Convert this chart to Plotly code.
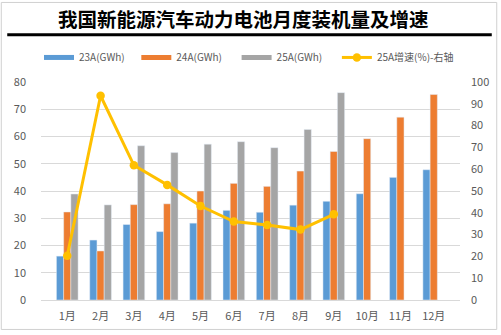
import plotly.graph_objects as go

months = ["1月", "2月", "3月", "4月", "5月", "6月", "7月", "8月", "9月", "10月", "11月", "12月"]
s23 = [16.1, 22.0, 27.7, 25.1, 28.2, 32.9, 32.2, 34.8, 36.2, 39.0, 45.0, 47.8]
s24 = [32.3, 18.0, 35.0, 35.3, 40.0, 42.8, 41.7, 47.3, 54.5, 59.2, 67.1, 75.4]
s25 = [38.9, 34.9, 56.6, 54.1, 57.2, 58.1, 55.9, 62.6, 76.1, None, None, None]
g25 = [20.3, 93.7, 61.8, 52.8, 43.1, 36.0, 34.4, 32.3, 39.3, None, None, None]

names = ["23A(GWh)", "24A(GWh)", "25A(GWh)", "25A增速(%)-右轴"]
colors = ["#5B9BD5", "#ED7D31", "#A5A5A5", "#FFC000"]

FONT = "Noto Sans CJK SC"
W, H = 501, 335
L, R, T, B = 41, 38, 82, 31
pw, ph = W - L - R, H - T - B

def px(x):
    return (x - L) / pw

def py(y):
    return (H - B - y) / ph

legend_ids = ["legend", "legend2", "legend3", "legend4"]
legend_x = [39, 137, 238, 339]

fig = go.Figure()
for vals, nm, c in zip([s23, s24, s25], names[:3], colors[:3]):
    fig.add_trace(go.Bar(x=months, y=vals, name=nm, marker_color=c,
                         showlegend=False, yaxis="y"))
# legend stand-ins for bars (Excel-style thick line keys)
for nm, c, lg in zip(names[:3], colors[:3], legend_ids[:3]):
    fig.add_trace(go.Scatter(x=[None], y=[None], mode="lines", name=nm,
                             line=dict(color=c, width=5), legend=lg))
fig.add_trace(go.Scatter(x=months, y=g25, name=names[3], mode="lines+markers",
                         line=dict(color=colors[3], width=3),
                         marker=dict(color=colors[3], size=8.5), yaxis="y2",
                         legend=legend_ids[3]))

legend_cfg = {}
for lg, lx in zip(legend_ids, legend_x):
    legend_cfg[lg] = dict(orientation="h", x=px(lx), xanchor="left", y=py(57),
                          yanchor="middle", font=dict(size=10, color="#595959"),
                          itemwidth=30, bgcolor="rgba(0,0,0,0)")

fig.update_layout(
    width=W, height=H,
    margin=dict(l=L, r=R, t=T, b=B, pad=0),
    paper_bgcolor="white", plot_bgcolor="white",
    font=dict(family=FONT, size=11, color="#595959"),
    barmode="group", bargap=0.35, bargroupgap=0,
    xaxis=dict(showgrid=False, showline=True, linecolor="#D9D9D9", linewidth=1,
               ticks="", tickfont=dict(size=11, color="#595959"),
               ticklabelstandoff=6),
    yaxis=dict(range=[0, 80], dtick=10, showgrid=True, gridcolor="#D9D9D9",
               zeroline=False, showline=False, ticks="",
               tickfont=dict(size=11, color="#595959"), ticklabelstandoff=14),
    yaxis2=dict(range=[0, 100], dtick=10, overlaying="y", side="right",
                showgrid=False, zeroline=False, showline=False, ticks="",
                tickfont=dict(size=11, color="#595959"), ticklabelstandoff=10),
    showlegend=True,
    annotations=[dict(text="<b>我国新能源汽车动力电池月度装机量及增速</b>",
                      xref="paper", yref="paper", x=px(245), y=py(17),
                      xanchor="center", yanchor="middle", showarrow=False,
                      font=dict(family=FONT, size=19.5, color="black"))],
    shapes=[
        dict(type="line", xref="paper", yref="paper", x0=px(7), x1=px(495),
             y0=py(34), y1=py(34), line=dict(color="black", width=3)),
        dict(type="rect", xref="paper", yref="paper", x0=px(1), x1=px(500),
             y0=py(1), y1=py(334), line=dict(color="#D0D0D0", width=1)),
    ],
    **legend_cfg,
)

fig.write_html("out.html")
